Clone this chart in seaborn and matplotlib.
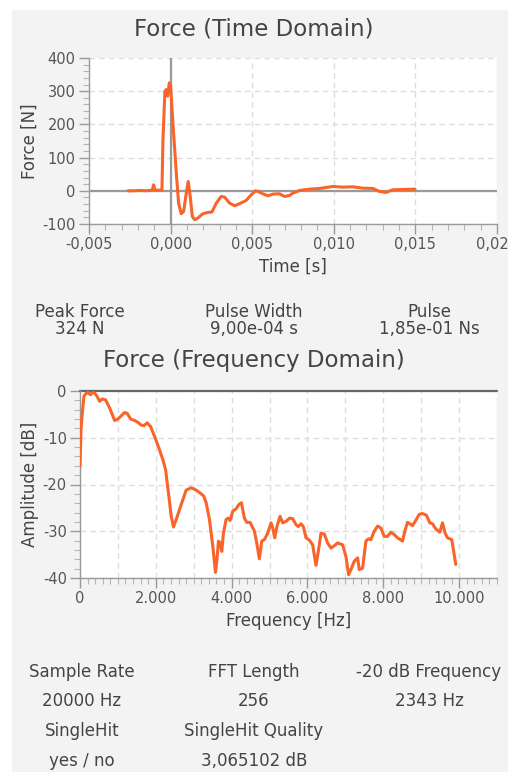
import numpy as np
import pandas as pd
import matplotlib
matplotlib.use('Agg')
import matplotlib.pyplot as plt
import seaborn as sns
from matplotlib.patches import Rectangle
from matplotlib.ticker import MultipleLocator, FuncFormatter

# ==================== DATA ====================
# Time domain: force pulse (time in ms, force in N)
time_ms = [-2.61, -2.31, -1.90, -1.49, -1.12, -1.04, -0.96, -0.53, -0.47, -0.35,
           -0.27, -0.18, -0.08, 0.00, 0.14, 0.35, 0.49, 0.65, 0.80, 0.96,
           1.08, 1.20, 1.33, 1.47, 1.67, 1.98, 2.29, 2.53, 2.80, 3.10,
           3.31, 3.61, 3.92, 4.22, 4.63, 4.94, 5.20, 5.35, 5.65, 5.96,
           6.27, 6.67, 6.98, 7.29, 7.49, 7.90, 8.51, 9.12, 9.94, 10.55,
           11.16, 11.78, 12.39, 12.80, 13.20, 13.61, 14.22, 14.98]
force_n = [0, 0, 1, 0, 2, 18, 2, 2, 150, 300,
           305, 285, 325, 318, 205, 53, -37, -69, -62, -7,
           28, -17, -77, -87, -82, -69, -65, -64, -37, -17,
           -19, -37, -45, -39, -29, -12, 0, -2, -9, -15,
           -10, -9, -17, -14, -7, 1, 5, 7, 13, 11,
           12, 8, 7, -2, -5, 3, 4, 5]

# Frequency domain: amplitude spectrum
freq_hz = [0, 26, 61, 105, 149, 211, 272, 342, 386, 448,
           518, 588, 676, 781, 913, 1001, 1089, 1177, 1247, 1335,
           1440, 1528, 1616, 1686, 1774, 1861, 1967, 2081, 2186, 2257,
           2344, 2406, 2467, 2537, 2669, 2801, 2933, 3064, 3196, 3266,
           3328, 3415, 3503, 3573, 3609, 3653, 3696, 3740, 3784, 3854,
           3907, 3960, 4030, 4118, 4188, 4258, 4337, 4398, 4487, 4601,
           4662, 4732, 4794, 4864, 4952, 5040, 5084, 5136, 5198, 5277,
           5347, 5435, 5523, 5610, 5698, 5760, 5830, 5891, 5962, 6050,
           6137, 6225, 6295, 6357, 6444, 6532, 6620, 6708, 6796, 6927,
           7015, 7086, 7147, 7235, 7323, 7366, 7454, 7542, 7612, 7673,
           7761, 7849, 7937, 8025, 8113, 8200, 8288, 8376, 8508, 8578,
           8639, 8701, 8771, 8841, 8947, 9035, 9140, 9228, 9298, 9386,
           9491, 9562, 9632, 9693, 9807, 9913]
amp_db = [-16.1, -8.3, -4.7, -1.1, -0.6, -0.3, -0.8, -0.3, -0.4, -1.1,
          -2.2, -1.7, -1.9, -3.6, -6.3, -6.0, -5.3, -4.6, -4.8, -6.0,
          -6.3, -6.7, -7.3, -7.4, -6.8, -7.6, -9.7, -12.2, -14.7, -16.8,
          -22.5, -26.8, -29.1, -27.5, -24.3, -21.2, -20.7, -21.2, -22.0, -22.5,
          -23.9, -27.5, -33.2, -38.8, -36.4, -32.1, -32.5, -34.3, -30.4, -27.5,
          -27.2, -27.7, -25.7, -25.2, -24.3, -23.9, -27.2, -28.1, -28.1, -30.0,
          -32.5, -35.9, -32.1, -31.8, -30.4, -28.2, -29.3, -31.4, -28.9, -26.8,
          -28.2, -27.9, -27.2, -27.3, -28.6, -29.0, -28.4, -29.0, -31.4, -31.9,
          -32.9, -37.3, -33.9, -30.4, -30.6, -32.5, -33.6, -33.1, -32.5, -32.9,
          -35.4, -39.3, -38.2, -36.4, -35.7, -38.2, -37.9, -32.1, -31.6, -31.8,
          -30.0, -28.9, -29.3, -31.1, -31.1, -30.2, -30.7, -31.4, -32.1, -29.7,
          -28.1, -28.4, -28.8, -27.9, -26.4, -26.2, -26.6, -28.2, -28.4, -29.5,
          -30.2, -28.2, -30.4, -31.4, -31.8, -37.1]

# Summary values
pulse_labels = ['Peak Force', 'Pulse Width', 'Pulse']
pulse_values = ['324 N', '9,00e-04 s', '1,85e-01 Ns']
fft_labels = ['Sample Rate', 'FFT Length', '-20 dB Frequency']
fft_values = ['20000 Hz', '256', '2343 Hz']
hit_labels = ['SingleHit', 'SingleHit Quality']
hit_values = ['yes / no', '3,065102 dB']

# ==================== STYLE ====================
W, H = 508, 772
LINE = '#f8642a'
TXT = '#444444'
AX = '#9a9a9a'
BG = '#f3f3f3'

sns.set_theme(style='white')
plt.rcParams['font.family'] = ['DejaVu Sans']

fig = plt.figure(figsize=(W / 100, H / 100), dpi=100, facecolor='white')
fig.patches.append(Rectangle((12 / W, 0), 1, 1 - 10 / H, transform=fig.transFigure,
                             facecolor=BG, edgecolor='none', zorder=-10))


def px_axes(l, t, r, b):
    return fig.add_axes([l / W, 1 - b / H, (r - l) / W, (b - t) / H])


def style_axes(ax):
    ax.set_facecolor('white')
    for s in ['top', 'right']:
        ax.spines[s].set_visible(False)
    for s in ['left', 'bottom']:
        ax.spines[s].set_color(AX)
        ax.spines[s].set_linewidth(1.0)
    ax.tick_params(which='major', direction='out', length=7.5, width=1, color=AX,
                   labelsize=10.5, labelcolor='#555555', pad=2,
                   left=True, bottom=True)
    ax.tick_params(which='minor', direction='out', length=4.5, width=0.8, color='#b5b5b5',
                   left=True, bottom=True)
    ax.grid(True, which='major', color='#dddddd', linestyle=(0, (4, 3)), linewidth=1)


def ftext(x, y, s, size=12, **kw):
    fig.text(x / W, 1 - y / H, s, ha='center', va='center', fontsize=size, color=TXT, **kw)


# ==================== TIME DOMAIN ====================
ax1 = px_axes(89, 58, 497, 224)
style_axes(ax1)
df_t = pd.DataFrame({'t': np.array(time_ms) / 1000.0, 'F': force_n})
ax1.axhline(0, color=AX, lw=1.6, zorder=2)
ax1.axvline(0, color=AX, lw=1.6, zorder=2)
sns.lineplot(data=df_t, x='t', y='F', ax=ax1, color=LINE, lw=2.2, zorder=3)
ax1.set_xlim(-0.005, 0.02)
ax1.set_ylim(-100, 400)
ax1.xaxis.set_major_locator(MultipleLocator(0.005))
ax1.xaxis.set_minor_locator(MultipleLocator(0.001))
ax1.yaxis.set_major_locator(MultipleLocator(100))
ax1.yaxis.set_minor_locator(MultipleLocator(20))
ax1.xaxis.set_major_formatter(FuncFormatter(lambda v, p: f'{v:.3f}'.replace('.', ',')))
ax1.yaxis.set_major_formatter(FuncFormatter(lambda v, p: f'{v:.0f}'))
ax1.set_xlabel('Time [s]', fontsize=12, color=TXT, labelpad=4)
ax1.set_ylabel('Force [N]', fontsize=12, color=TXT, labelpad=3)
ftext(254, 29, 'Force (Time Domain)', size=16.5)

for i, cx in enumerate([80, 254, 429]):
    ftext(cx, 312, pulse_labels[i], size=12)
    ftext(cx, 329, pulse_values[i], size=12)

# ==================== FREQUENCY DOMAIN ====================
ax2 = px_axes(80, 391, 497, 578)
style_axes(ax2)
df_f = pd.DataFrame({'f': freq_hz, 'A': amp_db})
for v in np.arange(1000, 11001, 2000):
    ax2.axvline(v, color='#dddddd', linestyle=(0, (4, 3)), lw=1, zorder=1)
ax2.axhline(0, color='#666666', lw=1.6, zorder=2, clip_on=False)
sns.lineplot(data=df_f, x='f', y='A', ax=ax2, color=LINE, lw=2.2, zorder=3)
ax2.set_xlim(0, 11000)
ax2.set_ylim(-40, 0)
ax2.xaxis.set_major_locator(MultipleLocator(2000))
ax2.xaxis.set_minor_locator(MultipleLocator(200))
ax2.yaxis.set_major_locator(MultipleLocator(10))
ax2.yaxis.set_minor_locator(MultipleLocator(2))
ax2.xaxis.set_major_formatter(FuncFormatter(lambda v, p: f'{v:,.0f}'.replace(',', '.')))
ax2.yaxis.set_major_formatter(FuncFormatter(lambda v, p: f'{v:.0f}'))
ax2.set_xlabel('Frequency [Hz]', fontsize=12, color=TXT, labelpad=4)
ax2.set_ylabel('Amplitude [dB]', fontsize=12, color=TXT, labelpad=3)
ftext(254, 361, 'Force (Frequency Domain)', size=16.5)

for i, cx in enumerate([82, 254, 429]):
    ftext(cx, 672, fft_labels[i], size=12)
    ftext(cx, 701, fft_values[i], size=12)
for i, cx in enumerate([82, 254]):
    ftext(cx, 731, hit_labels[i], size=12)
    ftext(cx, 761, hit_values[i], size=12)

fig.savefig('out.png', dpi=100, facecolor=fig.get_facecolor())
